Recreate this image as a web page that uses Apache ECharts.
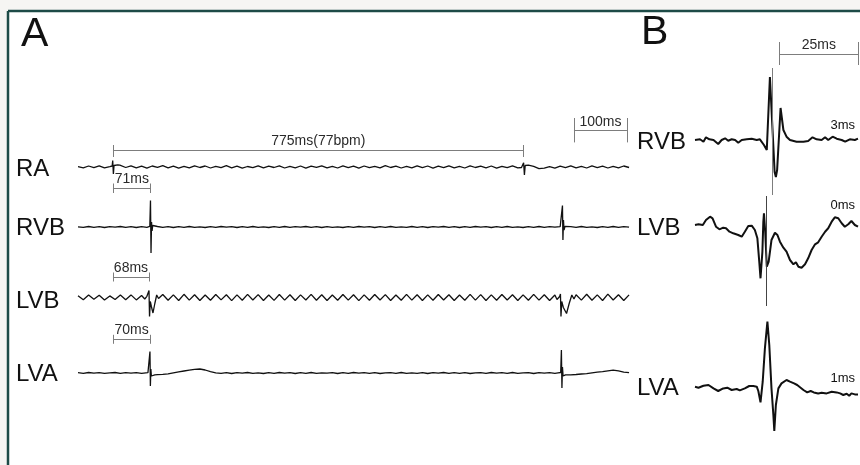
<!DOCTYPE html>
<html>
<head>
<meta charset="utf-8">
<script src="https://cdn.jsdelivr.net/npm/echarts@6/dist/echarts.min.js"></script>
<style>
  html, body { margin: 0; padding: 0; background: #f6f5f3; }
  #chart { width: 860px; height: 465px; }
</style>
</head>
<body>
<div id="chart"></div>
<script>
// ---------------- Panel A: 4-channel recording over one RA cycle ----------------
// Baseline activity sampled every 10 ms from -66 ms; null samples are covered by
// the fast complexes listed separately as [ms, amplitude] pairs.
const baseStartA = -66;
const baseStepA = 10;

const raBase = [
  0.3,-0.8,1.0,-0.6,1.2,-0.9,0.4,null,1.4,-0.5,
  1.2,-0.9,0.8,-1.2,1.0,-0.4,1.3,-0.8,0.9,-1.1,
  0.6,-0.9,1.2,-0.5,1.0,-1.0,0.7,-0.6,1.3,-0.8,
  0.9,-1.2,0.5,-0.7,1.1,-0.9,0.8,-0.5,1.2,-1.0,
  0.6,-0.8,1.0,-1.1,0.9,-0.4,1.2,-0.9,0.7,-1.0,
  1.1,-0.6,0.8,-1.2,1.0,-0.7,0.6,-0.9,1.3,-0.5,
  0.9,-1.0,0.7,-0.8,1.2,-0.6,1.0,-1.1,0.8,-0.7,
  1.1,-0.9,0.6,-1.0,1.2,-0.5,0.9,-0.8,1.0,-1.2,
  0.7,-0.6,1.1,-0.9,null,1.8,0.6,-1.6,-1.2,0.3,
  -1.1,0.8,-0.7,1.2,-0.9,0.6,-1.0,1.1,-0.6,0.9,
  -1.0,0.7,-0.8,1.0,-0.5
];
const raComplexes = [
  [[-4,0.4],[-1.5,1.0],[-0.5,6.5],[0.8,-7],[2,1.5],[4,2.6],[9,2.2],[13,1.8]],
  [[771,-0.5],[774,0.5],[775,4.3],[776.5,-8],[778,1.5],[780,2]]
];

const rvbBase = [
  0.2,-0.4,0.5,-0.3,0.4,-0.5,0.3,-0.2,0.5,-0.4,
  0.3,-0.5,0.4,-0.3,null,0.5,-0.4,0.3,-0.5,0.4,
  -0.3,0.5,-0.4,0.2,-0.5,0.4,-0.3,0.5,-0.2,0.4,
  -0.5,0.3,-0.4,0.5,-0.3,0.2,-0.5,0.4,-0.3,0.5,
  -0.4,0.3,-0.2,0.5,-0.4,0.3,-0.5,0.4,-0.3,0.2,
  -0.5,0.4,-0.3,0.5,-0.2,0.4,-0.5,0.3,-0.4,0.5,
  -0.3,0.2,-0.4,0.5,-0.3,0.4,-0.5,0.3,-0.2,0.5,
  -0.4,0.3,-0.5,0.4,-0.3,0.5,-0.2,0.4,-0.5,0.3,
  -0.4,0.5,-0.3,0.2,-0.5,0.4,-0.3,0.5,-0.4,0.3,
  -0.2,0.4,null,0.3,-0.4,0.5,-0.3,0.2,-0.5,0.4,
  -0.3,0.5,-0.4,0.3,-0.2
];
const rvbComplexes = [
  [[66,-0.3],[69.5,0.6],[70.8,26.5],[71.8,-26],[72.8,5],[73.8,-4],[75,1.5],[77,-0.3]],
  [[845,0.3],[847.5,1],[848.3,21.5],[849.2,-13],[850.2,7],[851.3,-3],[853,0.5],[855,0]]
];

const lvbBase = [
  1.8,-2.2,2.5,-1.8,2.2,-2.6,1.6,-2.0,2.4,-2.2,
  2.6,-2.4,2.0,null,null,null,3.0,-2.8,2.6,-3.0,
  3.2,-2.6,2.8,-3.0,2.5,-2.8,3.0,-2.4,2.8,-3.1,
  2.6,-2.7,3.1,-2.5,2.9,-3.0,2.5,-2.9,3.0,-2.6,
  2.8,-3.0,2.6,-2.5,3.1,-2.8,2.7,-3.0,2.5,-2.7,
  3.0,-2.6,2.8,-3.1,2.6,-2.7,3.0,-2.5,2.9,-3.0,
  2.5,-2.8,3.1,-2.6,2.7,-3.0,2.6,-2.8,3.0,-2.5,
  2.8,-3.0,2.5,-2.7,3.1,-2.6,2.9,-3.0,2.6,-2.8,
  3.0,-2.5,2.7,-3.0,2.6,-2.8,3.1,-2.6,2.8,-3.0,
  2.5,null,null,null,2.8,-2.6,3.2,-2.8,2.6,-3.0,
  3.4,-2.5,2.8,-3.0,2.6
];
const lvbComplexes = [
  [[60,-1.5],[64,1.2],[67,3],[68,7],[69,-19],[70.5,-4],[72.5,-9],[75.5,-15.5],[79,-6],[82.5,2.5],[86,-1]],
  [[838,-2],[843,1],[844.5,3.5],[845.5,-19],[847,-4],[850,-10],[856,-16],[861,-6],[866,2.5],[870,-1.5]]
];

const lvaBase = [
  0.3,-0.3,0.5,-0.2,0.4,-0.4,0.2,0.5,-0.3,0.4,
  -0.2,0.3,-0.4,null,null,-1.6,-1.4,-0.8,0.2,1.2,
  2.0,2.8,3.6,4.0,3.0,1.4,0.2,-0.4,0.3,-0.5,
  0.4,-0.2,0.5,-0.4,0.2,-0.5,0.4,-0.3,0.5,-0.2,
  0.4,-0.5,0.3,-0.3,0.5,-0.4,0.2,-0.2,0.4,-0.5,
  0.3,-0.3,0.5,-0.2,0.4,-0.4,0.3,-0.5,0.2,0.4,
  -0.3,0.5,-0.4,0.2,-0.3,0.4,-0.5,0.3,-0.2,0.5,
  -0.4,0.3,-0.3,0.4,-0.5,0.2,0.4,-0.3,0.5,-0.2,
  0.3,-0.4,0.5,-0.3,0.2,0.4,-0.5,0.3,-0.2,0.4,
  -0.3,null,-1.8,-1.9,-1.5,-1.0,-0.6,0.2,0.8,1.4,
  2.2,2.8,2.2,0.8,0.3
];
const lvaComplexes = [
  [[62,0.2],[66,0.4],[69,-1],[69.8,21.5],[70.6,-13],[71.5,4],[72.5,-3],[75,-1.2],[79,-1.8]],
  [[840,0.2],[845,0.5],[846.3,23],[847.3,-15],[848.3,6],[849.5,-3],[851.5,-1.5]]
];

const channelNamesA = ['RA', 'RVB', 'LVB', 'LVA'];
const cycleInterval = 775;                 // RA to RA, ms
const cycleLabel = '775ms(77bpm)';
const activationDelays = [71, 68, 70];     // RA -> RVB, LVB, LVA, ms
const delayLabels = ['71ms', '68ms', '70ms'];
const scaleBarA = 100;                     // ms
const scaleBarALabel = '100ms';

// ---------------- Panel B: expanded view of the ventricular complexes ----------------
const channelNamesB = ['RVB', 'LVB', 'LVA'];
const rvbDetail = [
  [0,0],[1.6,0.7],[2.7,-1.7],[3.5,2.7],[4.6,0.7],[5.9,0],[7.4,-4],[8.5,0],[9.6,1.7],[10.6,-0.7],
  [11.7,0.7],[12.8,0],[13.8,-2.7],[14.9,0],[16.5,0.7],[18.1,1.3],[19.7,0],[20.7,0.7],[22.0,-5],[22.9,-10],
  [23.9,63],[25.4,-32],[25.8,-37],[26.2,-30],[27.3,32],[28.2,10],[29.2,3.3],[30.3,0],[32.4,-1.7],[34.6,-1.7],
  [36.1,-1],[37.5,2.7],[38.8,0.7],[40.4,0],[41.5,2.7],[42.5,0],[43.9,3.3],[45.2,1.3],[46.8,0],[47.9,-1.7],
  [49.4,0.7],[51.0,0],[52,1.3]
];
const lvbDetail = [
  [0,0],[1.1,0.7],[2.5,0],[3.5,5],[4.8,8.3],[5.6,6.7],[6.7,-1.7],[7.8,-4.3],[9.0,-2.7],[9.9,-3.3],
  [11.0,-6.7],[12.2,-8.3],[13.8,-10],[14.9,-11.7],[15.9,-6.7],[17.0,-1],[18.1,-0.7],[19.1,-5],[19.9,-13.3],[20.5,-36.7],
  [20.9,-53.3],[21.5,-26.7],[21.8,3.3],[22.0,11.7],[22.4,-6.7],[22.9,-41.7],[23.5,-36.7],[24.4,-15],[25.5,-7.7],[26.3,-10],
  [27.1,-16.7],[28.2,-22.7],[29.2,-26.7],[30.3,-35],[31.4,-39.3],[32.2,-37.3],[33.0,-41.7],[34.0,-42.7],[35.1,-39.3],[36.1,-33.3],
  [37.2,-25],[38.3,-19.3],[39.3,-17.3],[40.4,-11.7],[41.5,-6.7],[42.5,-3.3],[43.6,3.3],[44.6,7.7],[45.7,6.7],[46.8,1.7],
  [47.8,-1.7],[48.9,0.7],[49.9,4],[51.0,0],[52,-1.7]
];
const lvaDetail = [
  [0,0],[1.1,-1],[2.7,1],[4.3,1.7],[5.9,-1.7],[7.4,-4.3],[9.0,-1.7],[10.3,-1],[11.7,-3.3],[13.3,-2.3],
  [14.3,-3.7],[15.9,-1.7],[17.3,0.7],[18.6,0.7],[19.7,0],[20.2,-4.3],[20.9,-15.7],[21.6,5],[22.3,38.3],[23.1,65],
  [23.7,41.7],[24.4,-1.7],[25.0,-28.3],[25.3,-44.3],[25.8,-18.3],[26.6,-1.7],[27.6,3.3],[29.2,6.7],[30.3,5],[31.6,3.3],
  [32.6,1.7],[33.7,-1],[34.6,-3.3],[35.8,-5.7],[36.9,-4.3],[37.9,-5.7],[39.3,-6.7],[40.4,-6],[42.0,-6.7],[43.6,-5],
  [45.2,-5.7],[46.3,-6.7],[47.3,-8.3],[48.4,-7],[49.2,-9],[49.9,-6.7],[51.0,-7.7],[52,-7.7]
];
const localTimesB = ['3ms', '0ms', '1ms'];
const activationMarksB = [24.8, 22.6];     // ms, RVB and LVB reference lines
const scaleBarB = 25;                      // ms
const scaleBarBLabel = '25ms';

// ---------------- helpers ----------------
const FONT = '"Liberation Sans", Arial, Helvetica, sans-serif';
const INK = '#111111';
const BRACKET = '#7d7d7d';

function buildTrace(base, complexes) {
  const pts = [];
  base.forEach((v, i) => { if (v !== null) pts.push([baseStartA + i * baseStepA, v]); });
  complexes.forEach(c => c.forEach(p => pts.push(p)));
  return pts.sort((a, b) => a[0] - b[0]);
}

// horizontal interval line with end ticks, in data coordinates
function bracket(t0, t1, y, up, down, text, fontSize) {
  const first = { coord: [t0, y] };
  if (text) {
    first.label = {
      show: true, formatter: text, position: 'insideMiddleTop', distance: 2,
      fontSize: fontSize, color: '#2a2a2a', fontFamily: FONT
    };
  }
  return [
    [first, { coord: [t1, y] }],
    [{ coord: [t0, y + up] }, { coord: [t0, y - down] }],
    [{ coord: [t1, y + up] }, { coord: [t1, y - down] }]
  ];
}

function vline(t, y0, y1) {
  return [[{ coord: [t, y0] }, { coord: [t, y1] }]];
}

function markLines(items, color) {
  return {
    silent: true, symbol: ['none', 'none'], animation: false,
    label: { show: false }, emphasis: { disabled: true },
    lineStyle: { color: color || BRACKET, width: 1, type: 'solid' },
    data: items
  };
}

// ---------------- layout ----------------
const gridsA = [
  { left: 78, width: 550, top: 117,   height: 100 },  // RA, baseline 167
  { left: 78, width: 550, top: 177,   height: 100 },  // RVB, baseline 227
  { left: 78, width: 550, top: 267.5, height: 60 },   // LVB, baseline 297.5
  { left: 78, width: 550, top: 323,   height: 100 }   // LVA, baseline 373
];
const rangesA = [50, 50, 30, 50];
const gridsB = [
  { left: 695, width: 163, top: 40,    height: 200 },  // RVB, baseline 140
  { left: 695, width: 163, top: 125,   height: 200 },  // LVB, baseline 225
  { left: 695, width: 163, top: 316.7, height: 140 }   // LVA, baseline 386.7
];
const rangesB = [100, 100, 70];

const grid = [], xAxis = [], yAxis = [], series = [];

gridsA.forEach((g, k) => {
  grid.push(g);
  xAxis.push({ type: 'value', gridIndex: k, min: -66, max: 972, show: false });
  yAxis.push({ type: 'value', gridIndex: k, min: -rangesA[k], max: rangesA[k], show: false });
});
gridsB.forEach((g, k) => {
  grid.push(g);
  xAxis.push({ type: 'value', gridIndex: 4 + k, min: 0, max: 52, show: false });
  yAxis.push({ type: 'value', gridIndex: 4 + k, min: -rangesB[k], max: rangesB[k], show: false });
});

const tracesA = [
  buildTrace(raBase, raComplexes),
  buildTrace(rvbBase, rvbComplexes),
  buildTrace(lvbBase, lvbComplexes),
  buildTrace(lvaBase, lvaComplexes)
];

const scaleStartA = 870;
const marksA = [
  [].concat(
    bracket(0, cycleInterval, 17, 5, 7, cycleLabel, 14),
    bracket(scaleStartA, scaleStartA + scaleBarA, 36.3, 12.7, 11.7, scaleBarALabel, 14)
  ),
  bracket(0, activationDelays[0], 39, 4.5, 5, delayLabels[0], 14),
  bracket(0, activationDelays[1], 20.5, 4.5, 4.5, delayLabels[1], 14),
  bracket(0, activationDelays[2], 33.7, 4.5, 4.5, delayLabels[2], 14)
];

tracesA.forEach((data, k) => {
  series.push({
    name: channelNamesA[k], type: 'line', xAxisIndex: k, yAxisIndex: k,
    data: data, showSymbol: false, symbol: 'none', silent: true, animation: false,
    lineStyle: { color: INK, width: 1.3 },
    markLine: markLines(marksA[k])
  });
});

const tracesB = [rvbDetail, lvbDetail, lvaDetail];
const marksB = [
  markLines([].concat(
    bracket(52 - scaleBarB, 52, 86, 12, 11, scaleBarBLabel, 14),
    vline(activationMarksB[0], 72, -55)
  )),
  markLines(vline(activationMarksB[1], 29, -81), '#444'),
  null
];
tracesB.forEach((data, k) => {
  const s = {
    name: channelNamesB[k] + ' detail', type: 'line', xAxisIndex: 4 + k, yAxisIndex: 4 + k,
    data: data, showSymbol: false, symbol: 'none', silent: true, animation: false,
    lineStyle: { color: INK, width: 2 }
  };
  if (marksB[k]) s.markLine = marksB[k];
  series.push(s);
});

// ---------------- text and frame ----------------
function label(text, x, y, size, align) {
  return {
    type: 'text', x: x, y: y, silent: true, z: 10,
    style: { text: text, font: size + 'px ' + FONT, fill: INK, align: align || 'left', verticalAlign: 'middle' }
  };
}

const labelYA = [169, 228, 301, 374.5];
const labelYB = [142, 228, 388];
const timeYB = [125, 205, 378.5];

const graphic = [
  { type: 'rect', z: -10, silent: true, shape: { x: 8, y: 11, width: 852, height: 454 }, style: { fill: '#ffffff' } },
  { type: 'line', z: 5, silent: true, shape: { x1: 8, y1: 11, x2: 860, y2: 11 }, style: { stroke: '#1d4b47', lineWidth: 2.5 } },
  { type: 'line', z: 5, silent: true, shape: { x1: 8, y1: 11, x2: 8, y2: 465 }, style: { stroke: '#1d4b47', lineWidth: 2.5 } },
  label('A', 21, 34.5, 41),
  label('B', 641, 32.5, 41)
];
channelNamesA.forEach((n, k) => graphic.push(label(n, 16, labelYA[k], 24)));
channelNamesB.forEach((n, k) => graphic.push(label(n, 637, labelYB[k], 24)));
localTimesB.forEach((t, k) => graphic.push(label(t, 855, timeYB[k], 13, 'right')));

const chart = echarts.init(document.getElementById('chart'), null, { renderer: 'canvas' });
chart.setOption({
  backgroundColor: '#f6f5f3',
  animation: false,
  grid: grid,
  xAxis: xAxis,
  yAxis: yAxis,
  series: series,
  graphic: graphic
});
</script>
</body>
</html>
